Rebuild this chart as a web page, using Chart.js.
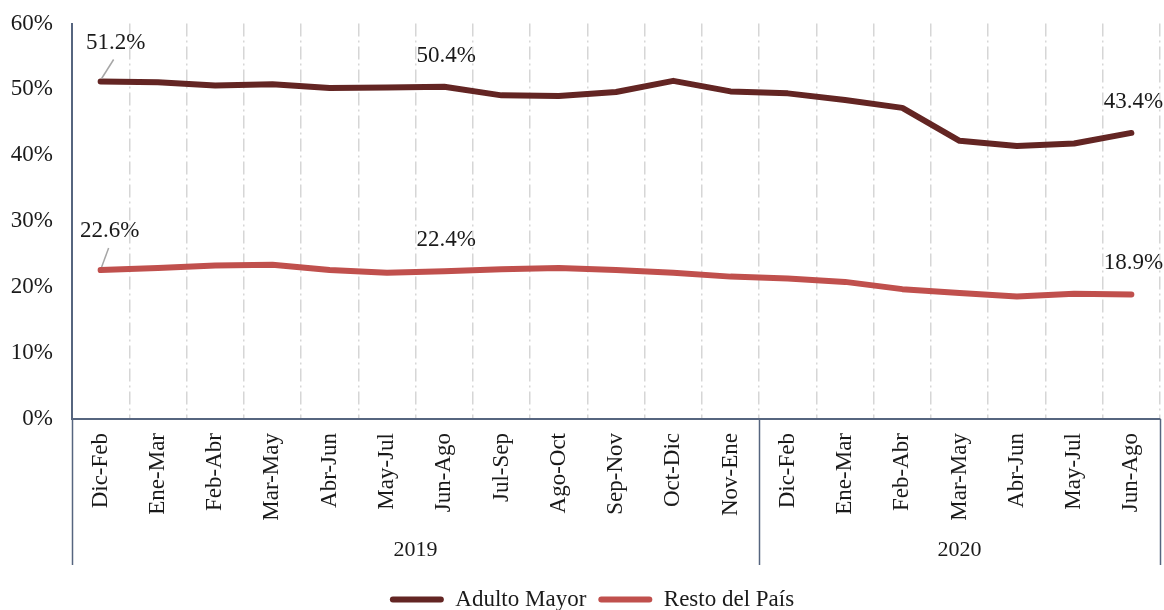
<!DOCTYPE html>
<html>
<head>
<meta charset="utf-8">
<script src="https://cdn.jsdelivr.net/npm/chart.js@4/dist/chart.umd.min.js"></script>
<style>
  html, body { margin: 0; padding: 0; background: #ffffff; }
  #wrap { width: 1164px; height: 610px; position: relative; }
</style>
</head>
<body>
<div id="wrap"><canvas id="c" width="1164" height="610"></canvas></div>
<script>
// ---- data ----
const categories = ['Dic-Feb','Ene-Mar','Feb-Abr','Mar-May','Abr-Jun','May-Jul','Jun-Ago','Jul-Sep','Ago-Oct','Sep-Nov','Oct-Dic','Nov-Ene',
                    'Dic-Feb','Ene-Mar','Feb-Abr','Mar-May','Abr-Jun','May-Jul','Jun-Ago'];
const yearLabels = ['2019', '2020'];
const yearCounts = [12, 7];
const adultoMayor = [51.2, 51.1, 50.6, 50.8, 50.2, 50.3, 50.4, 49.1, 49.0, 49.6, 51.3, 49.7, 49.4, 48.4, 47.2, 42.2, 41.4, 41.8, 43.4];
const restoPais   = [22.6, 22.9, 23.3, 23.4, 22.6, 22.2, 22.4, 22.7, 22.9, 22.6, 22.2, 21.6, 21.3, 20.8, 19.7, 19.1, 18.6, 19.0, 18.9];
const seriesNames = ['Adulto Mayor', 'Resto del País'];
const labelIndices = [0, 6, 18];
const yTicks = [0, 10, 20, 30, 40, 50, 60];

const FONT = "'Liberation Serif', 'Times New Roman', serif";
const TEXT = '#1a1a1a';
const AXIS = '#56657f';

// data labels with optional leader lines
const dataLabelPlugin = {
  id: 'dataLabels',
  afterDatasetsDraw(chart) {
    const ctx = chart.ctx;
    ctx.save();
    ctx.font = '23px ' + FONT;
    ctx.fillStyle = TEXT;
    ctx.textAlign = 'center';
    ctx.textBaseline = 'middle';
    chart.data.datasets.forEach((ds, di) => {
      const meta = chart.getDatasetMeta(di);
      labelIndices.forEach(i => {
        const pt = meta.data[i];
        const txt = ds.data[i].toFixed(1) + '%';
        if (i === 0) {
          const dx = di === 0 ? 15 : 9;
          const tx = pt.x + dx, ty = pt.y - 39;
          ctx.strokeStyle = '#a6a6a6';
          ctx.lineWidth = 1.5;
          ctx.beginPath();
          ctx.moveTo(pt.x + 1, pt.y - 3);
          ctx.lineTo(pt.x + (di === 0 ? 13 : 8), pt.y - 22);
          ctx.stroke();
          ctx.fillText(txt, tx, ty);
        } else {
          ctx.fillText(txt, pt.x + 2, pt.y - 31);
        }
      });
    });
    ctx.restore();
  }
};

// year grouping below the category labels
const groupPlugin = {
  id: 'groups',
  afterLayout(chart) {
    chart.legend.top += 11;
    chart.legend.bottom += 11;
    chart.legend.left += 12;
    chart.legend.right += 12;
  },
  afterDraw(chart) {
    const xs = chart.scales.x;
    const ctx = chart.ctx;
    const top = chart.chartArea.bottom;
    const bottom = xs.bottom;
    ctx.save();
    ctx.strokeStyle = AXIS;
    ctx.lineWidth = 1.5;
    let start = 0;
    const bounds = [0];
    yearCounts.forEach(c => { start += c; bounds.push(start); });
    bounds.forEach(b => {
      const x = Math.round(xs.getPixelForValue(b - 0.5)) + 0.5;
      ctx.beginPath();
      ctx.moveTo(x, top);
      ctx.lineTo(x, bottom);
      ctx.stroke();
    });
    ctx.font = '22px ' + FONT;
    ctx.fillStyle = TEXT;
    ctx.textAlign = 'center';
    ctx.textBaseline = 'middle';
    yearLabels.forEach((lbl, k) => {
      const x0 = xs.getPixelForValue(bounds[k] - 0.5);
      const x1 = xs.getPixelForValue(bounds[k + 1] - 0.5);
      ctx.fillText(lbl, (x0 + x1) / 2, 550);
    });
    ctx.restore();
  }
};

new Chart(document.getElementById('c'), {
  type: 'line',
  data: {
    labels: categories,
    datasets: [
      { label: seriesNames[0], data: adultoMayor, borderColor: '#632523', backgroundColor: '#632523',
        borderWidth: 6, pointRadius: 0, tension: 0, borderCapStyle: 'round', borderJoinStyle: 'round' },
      { label: seriesNames[1], data: restoPais, borderColor: '#c0504d', backgroundColor: '#c0504d',
        borderWidth: 6, pointRadius: 0, tension: 0, borderCapStyle: 'round', borderJoinStyle: 'round' }
    ]
  },
  options: {
    responsive: false,
    animation: false,
    layout: { padding: { top: 23.5, right: 4, left: 0, bottom: 0 } },
    plugins: {
      tooltip: { enabled: false },
      legend: {
        position: 'bottom',
        labels: {
          font: { family: FONT, size: 23 },
          color: TEXT,
          boxWidth: 54,
          boxHeight: 6,
          padding: 12,
          useBorderRadius: true,
          borderRadius: 3,
          generateLabels: (chart) => Chart.defaults.plugins.legend.labels.generateLabels(chart)
            .map(l => Object.assign({}, l, { lineWidth: 0, fillStyle: l.strokeStyle }))
        }
      }
    },
    scales: {
      x: {
        offset: true,
        grid: { offset: true, display: true, drawOnChartArea: true, drawTicks: false, color: '#d6d6d6', lineWidth: 1.5 },
        border: { display: true, color: AXIS, width: 2, dash: [13, 4, 2, 4] },
        ticks: { autoSkip: false, minRotation: 90, maxRotation: 90, padding: 14, color: TEXT, font: { family: FONT, size: 23 } },
        afterFit: (s) => { s.height = 146; s.paddingLeft = 0; s.paddingRight = 0; }
      },
      y: {
        min: 0, max: 60,
        afterBuildTicks: (s) => { s.ticks = yTicks.map(v => ({ value: v })); },
        grid: { display: true, drawOnChartArea: false, drawTicks: false },
        border: { display: true, color: AXIS, width: 2 },
        ticks: { padding: 19, color: TEXT, font: { family: FONT, size: 23 }, callback: (v) => v + '%' },
        afterFit: (s) => { s.width = 72; s.paddingTop = 0; s.paddingBottom = 0; }
      }
    }
  },
  plugins: [dataLabelPlugin, groupPlugin]
});
</script>
</body>
</html>
